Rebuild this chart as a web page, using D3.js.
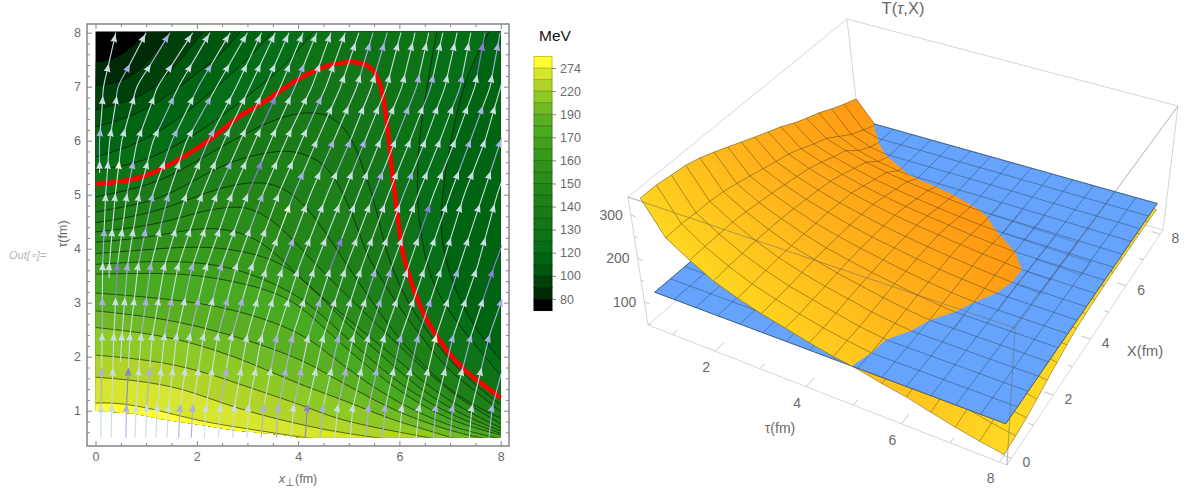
<!DOCTYPE html>
<html>
<head>
<meta charset="utf-8">
<script src="https://cdn.jsdelivr.net/npm/d3@7"></script>
<style>
  html, body { margin: 0; padding: 0; background: #fff; }
  svg { display: block; }
  text { font-family: "Liberation Sans", Arial, sans-serif; }
</style>
</head>
<body>
<div id="chart"></div>
<script>
// contour levels (MeV), low to high, and the colours of the 22 bands they make
var levels = [80, 90, 100, 110, 120, 125, 130, 135, 140, 145, 150, 155, 160, 165, 170, 180, 190, 205, 220, 247, 274];
var labelledLevels = [80, 100, 120, 130, 140, 150, 160, 170, 190, 220, 274];
var bandColors = ["#000000", "#002a06", "#00400a", "#00560e", "#006412", "#056e16", "#0e7216", "#147618",
  "#1a7a18", "#1e8018", "#248618", "#2a8c1a", "#30921a", "#389a1c", "#40a01e", "#48aa20",
  "#5aae22", "#70ba26", "#8ec926", "#b2d42a", "#d6e52e", "#ffff33"];

// contour lines as [x, tau]; a level can have one or two pieces (left side, right side)
var contour80 = [[[0, 7.46], [.36, 7.49], [.75, 7.74], [1.01, 8.02]]];
var contour90 = [[[0, 7.01], [.6, 7.1], [1, 7.4], [1.47, 8.02]]];
var contour100 = [[[0, 6.57], [.75, 6.75], [1.2, 7], [1.6, 7.4], [2.13, 8.02]]];
var contour110 = [[[0, 6.26], [.75, 6.45], [1.4, 6.8], [2, 7.25], [2.5, 7.6], [2.86, 8.02]]];
var contour120 = [[[0, 5.7], [.75, 5.9], [1.5, 6.3], [2.1, 6.75], [2.7, 7.25], [3.1, 7.6], [3.5, 8.02]],
  [[7.77, 8.02], [7.33, 7.25], [7.06, 6.26], [6.83, 5.03], [6.8, 4.07], [7.13, 3.14], [7.52, 2.47], [8, 1.94]]];
var contour125 = [[[0, 5.46], [.75, 5.55], [1.5, 5.85], [2.2, 6.25], [2.9, 6.75], [3.5, 7.2], [3.9, 7.55], [4.3, 8.02]],
  [[6.74, 8.02], [6.54, 7], [6.37, 5.95], [6.34, 4.9], [6.44, 4.16], [6.6, 3.45], [6.93, 2.9], [7.33, 2.4], [8, 1.65]]];
var contour130 = [[[0, 5.2], [.55, 5.24], [.95, 5.33], [1.34, 5.49], [1.8, 5.73], [2.26, 6.01], [2.66, 6.32], [2.86, 6.48],
  [3.25, 6.66], [3.71, 6.97], [4.04, 7.17], [4.56, 7.4], [5.02, 7.48], [5.35, 7.43], [5.55, 7.25], [5.68, 6.88],
  [5.78, 6.14], [5.85, 5.46], [5.94, 4.78], [6.04, 4], [6.14, 3.64], [6.34, 3.08], [6.54, 2.65], [6.93, 2.1],
  [7.26, 1.76], [7.65, 1.48], [8, 1.24]]];
var contour135 = [[[0, 4.96], [.75, 5.1], [1.4, 5.3], [2, 5.62], [2.6, 5.95], [3.2, 6.25], [3.7, 6.45], [4.2, 6.54], [4.63, 6.48],
  [4.96, 6.2], [5.16, 5.83], [5.32, 5.39], [5.52, 4.84], [5.68, 4.16], [5.81, 3.76], [6.08, 3.14], [6.41, 2.65], [6.8, 2.16], [7.26, 1.66], [8, 1.11]]];
var contour140 = [[[0, 4.68], [.75, 4.8], [1.4, 4.97], [2.07, 5.33], [2.72, 5.64], [3.38, 5.78], [3.84, 5.83], [4.3, 5.7], [4.63, 5.46],
  [4.9, 5.02], [5.22, 4.28], [5.35, 3.88], [5.68, 3.39], [6, 2.9], [6.47, 2.34], [6.9, 1.79], [7.52, 1.35], [8, .98]]];
var contour145 = [[[0, 4.48], [.8, 4.6], [1.5, 4.78], [2.2, 5.05], [2.8, 5.2], [3.25, 5.24], [3.71, 5.15], [4.17, 4.78], [4.56, 4.28],
  [4.96, 3.7], [5.28, 3.27], [5.68, 2.71], [6.21, 2.09], [6.73, 1.6], [7.3, 1.17], [8, .86]]];
var contour150 = [[[0, 4.31], [.9, 4.4], [1.6, 4.55], [2.2, 4.72], [2.72, 4.78], [3.05, 4.76], [3.51, 4.53], [3.9, 4.16], [4.56, 3.5],
  [5, 3.1], [5.55, 2.6], [6, 2.2], [6.5, 1.75], [7.2, 1.2], [8, .76]]];
var contour155 = [[[0, 4.12], [1, 4.2], [1.7, 4.33], [2.3, 4.4], [2.9, 4.3], [3.3, 4.1], [3.7, 3.8], [4.2, 3.3], [4.8, 2.85], [5.3, 2.45],
  [5.9, 2], [6.5, 1.5], [7.2, 1.05], [8, .68]]];
var contour160 = [[[0, 3.91], [1, 3.98], [2.2, 4.07], [3.38, 3.88], [4.04, 3.51], [4.6, 2.95], [5.2, 2.4], [5.8, 1.9], [6.4, 1.4], [7.1, .98], [8, .62]]];
var contour165 = [[[0, 3.71], [1.4, 3.79], [2.72, 3.7], [4.04, 3.14], [4.6, 2.65], [5.2, 2.15], [5.8, 1.65], [6.4, 1.25], [7.1, .88], [8, .58]]];
var contour170 = [[[0, 3.53], [1.2, 3.55], [2.07, 3.52], [3.38, 3.27], [4.04, 2.96], [4.6, 2.45], [5.2, 1.95], [5.8, 1.5], [6.4, 1.12], [7.1, .78], [8, .55]]];
var contour180 = [[[0, 3.18], [1.4, 3.08], [2.72, 2.9], [4.04, 2.47], [4.6, 2.05], [5.2, 1.62], [5.8, 1.25], [6.4, .95], [7.1, .68], [7.8, .52], [8, .48]]];
var contour190 = [[[0, 2.85], [1.4, 2.71], [2.72, 2.4], [4.04, 1.97], [4.6, 1.66], [5.2, 1.35], [5.8, 1.05], [6.4, .82], [7.1, .6], [7.7, .48]]];
var contour205 = [[[0, 2.54], [1.4, 2.4], [2.72, 2.03], [4.04, 1.48], [4.6, 1.3], [5.2, 1.08], [5.8, .85], [6.4, .68], [7.1, .48]]];
var contour220 = [[[0, 2.03], [1.08, 1.94], [2.07, 1.75], [3.05, 1.42], [4.04, 1.12], [4.6, .9], [5.2, .75], [6, .6], [6.7, .48]]];
var contour247 = [[[0, 1.62], [.75, 1.57], [1.74, 1.42], [2.72, 1.05], [4.04, .74], [4.8, .6], [5.7, .48]]];
var contour274 = [[[0, 1.14], [.4, 1.15], [1.08, 1.05], [2.07, .8], [2.9, .68], [3.7, .56], [4.3, .48]]];
var contourPieces = [contour80, contour90, contour100, contour110, contour120, contour125, contour130, contour135, contour140,
  contour145, contour150, contour155, contour160, contour165, contour170, contour180, contour190, contour205, contour220, contour247, contour274];
var redLevel = 130;

// lower edge of the filled region (the plot is white past it)
var fieldEdge = [[0, 1], [.75, .95], [1.4, .83], [2.07, .74], [2.72, .64], [3.71, .55], [4.04, .5], [8, .5]];

// streamlines: [start tau, x at start, then x at each streamTaus value above start]
var streamTaus = [.5, 1.05, 2.37, 3.67, 5, 6, 7, 8];
var streams = [
  [5.4, .08, .08, .16, .4],
  [.5, .11, .11, .13, .14, .2, .28, .45, 1],
  [3.45, .27, .27, .39, .52, .82, 1.47],
  [.5, .31, .32, .36, .43, .62, .83, 1.23, 1.92],
  [1.9, .49, .52, .63, .86, 1.14, 1.64, 2.26],
  [.5, .6, .61, .68, .84, 1.13, 1.51, 2.03, 2.66],
  [.5, .78, .8, .9, 1.09, 1.44, 1.8, 2.39, 3],
  [.5, .99, 1.01, 1.12, 1.36, 1.79, 2.23, 2.78, 3.28],
  [.5, 1.19, 1.22, 1.36, 1.63, 2.1, 2.54, 3.05, 3.55],
  [.5, 1.41, 1.44, 1.6, 1.91, 2.39, 2.86, 3.35, 3.82],
  [.5, 1.64, 1.67, 1.86, 2.19, 2.69, 3.15, 3.65, 4.1],
  [.5, 1.89, 1.92, 2.13, 2.48, 3, 3.46, 3.94, 4.37],
  [.5, 2.15, 2.18, 2.41, 2.78, 3.3, 3.76, 4.27, 4.65],
  [.5, 2.43, 2.46, 2.69, 3.09, 3.61, 4.07, 4.55, 4.93],
  [.5, 2.71, 2.74, 2.99, 3.38, 3.91, 4.37, 4.84, 5.2],
  [.5, 2.99, 3.02, 3.28, 3.7, 4.24, 4.7, 5.16, 5.48],
  [.5, 3.27, 3.32, 3.58, 4.02, 4.57, 5.03, 5.45, 5.76],
  [.5, 3.57, 3.61, 3.89, 4.33, 4.89, 5.32, 5.75, 6.03],
  [.5, 3.86, 3.91, 4.2, 4.65, 5.19, 5.62, 6.05, 6.31],
  [.5, 4.14, 4.18, 4.5, 4.95, 5.49, 5.92, 6.34, 6.58],
  [.5, 4.43, 4.49, 4.8, 5.26, 5.78, 6.21, 6.62, 6.86],
  [.5, 4.73, 4.78, 5.09, 5.55, 6.08, 6.51, 6.9, 7.14],
  [.5, 5.03, 5.08, 5.39, 5.85, 6.37, 6.8, 7.2, 7.41],
  [.5, 5.34, 5.39, 5.7, 6.18, 6.67, 7.1, 7.49, 7.69],
  [.5, 5.67, 5.72, 6.03, 6.51, 7, 7.4, 7.79, 7.99],
  [.5, 6, 6.05, 6.37, 6.84, 7.28, 7.69, 8, 8.3],
  [.5, 6.33, 6.39, 6.72, 7.18, 7.65, 8, 8.4],
  [.5, 6.67, 6.72, 7.06, 7.54, 7.93, 8.3],
  [.5, 7, 7.05, 7.41, 7.87, 8.4],
  [.5, 7.38, 7.43, 7.77, 8.25],
  [.5, 7.77, 7.83, 8.2]
];
// rows of arrowheads, for streams on the left half and the right half
var arrowRowsLeft = [1.05, 1.72, 2.37, 3.02, 3.67, 4.3, 4.95, 5.55, 6.15, 6.75, 7.35, 7.9];
var arrowRowsRight = [1.05, 1.72, 2.34, 3, 3.55, 4.13, 4.75, 5.36, 5.95, 6.57, 7.15, 7.74];
// arrows that are not the usual pale colour: [x, tau, tint]
var tintColors = ["#c9dde3", "#a9b0e4", "#8a80d8", "#eef0dc"];
var tintedArrows = [
  [.6, 1.05, 1], [1.67, 1.05, 1], [1.92, 1.05, 1], [3.3, 1.05, 1], [3.6, 1.05, 1], [4.2, 1.05, 2], [4.5, 1.05, 1], [5.4, 1.05, 1], [5.73, 1.05, 1],
  [6.72, 1.05, 1], [7.07, 1.05, 1], [7.83, 1.05, 1], [.11, 1.72, 1], [.64, 1.72, 2], [1.06, 1.72, 1], [2.55, 1.72, 1], [3.72, 1.72, 1], [4.02, 1.72, 1],
  [4.92, 1.72, 1], [5.54, 1.72, 1], [3.58, 2.37, 1], [3.89, 2.37, 1], [4.8, 2.37, 1], [6.04, 2.37, 1], [6.37, 2.37, 1], [7.06, 2.37, 1], [7.4, 2.37, 1],
  [7.75, 2.37, 1], [.13, 3.02, 1], [.98, 3.02, 1], [1.48, 3.02, 1], [2, 3.02, 1], [2.57, 3.02, 1], [2.87, 3.02, 1], [4.4, 3, 1], [5.6, 3, 1], [6.6, 3, 1],
  [7.95, 3, 1], [.43, 3.67, 2], [.63, 3.67, 1], [1.09, 3.67, 1], [1.91, 3.67, 1], [2.48, 3.67, 1], [5.55, 3.55, 1], [5.88, 3.55, 1], [7.16, 3.55, 1],
  [7.82, 3.55, 2], [.16, 4.35, 1], [.96, 4.31, 1], [1.13, 4.96, 1], [1.43, 4.91, 1], [2.63, 5.46, 1], [3.25, 5.46, 2], [3.28, 4.83, 1], [1.59, 6.17, 1],
  [2.28, 6.09, 1], [2.23, 6.75, 1], [1.56, 6.85, 1], [.67, 7.54, 1], [1.26, 7.74, 1], [2.2, 7.34, 1], [3.51, 6.62, 2], [.09, 6.44, 1], [.08, 5.92, 1],
  [.75, 5.6, 1], [4.44, 6.57, 1], [3.94, 4.22, 1], [4.9, 4.16, 2], [6.7, 4.75, 2], [7.73, 7.86, 2], [4.1, 7.2, 1], [5.32, 7.74, 1], [5.62, 7.74, 1],
  [4.77, 5.95, 1], [5.09, 5.95, 1], [5.42, 5.95, 1], [4.18, 5.36, 1], [5.75, 5.33, 1], [6.27, 7.1, 1], [6.54, 7.1, 1], [7.1, 7.15, 1], [7.95, 7.9, 1],
  [7.97, 5.97, 1], [6.3, 6.55, 1], [7.66, 6.6, 1], [7.46, 5.98, 1], [6.37, 5.33, 1], [.42, 5.33, 3], [3.9, 4.77, 3], [6.73, 2.3, 3]
];

// 3D surface: T(tau, X) in MeV, one row per surfaceTau, one column per surfaceX
var surfaceTau = [.5, 1, 1.5, 2, 2.5, 3, 3.5, 4, 4.5, 5, 5.5, 6, 6.5, 7, 7.5, 8];
var surfaceX = [0, .5, 1, 1.5, 2, 2.5, 3, 3.5, 4, 4.5, 5, 5.5, 6, 6.5, 7, 7.5, 8];
var surfaceT = [
  [331, 331, 326, 322, 313, 301, 288, 275, 262, 250, 238, 223, 211, 200, 186, 174, 163],
  [256, 258, 255, 254, 250, 243, 235, 227, 219, 212, 200, 187, 176, 157, 138, 125, 113],
  [223, 223, 223, 223, 220, 215, 211, 205, 199, 193, 183, 171, 161, 137, 121, 112, 106],
  [194, 196, 196, 197, 196, 194, 191, 187, 183, 178, 169, 158, 148, 125, 113, 108, 104],
  [174, 174, 175, 176, 176, 176, 174, 173, 169, 166, 157, 147, 138, 117, 110, 106, 103],
  [158, 158, 158, 160, 162, 161, 161, 160, 158, 155, 148, 139, 131, 113, 108, 105, 103],
  [145, 144, 146, 147, 149, 150, 150, 149, 148, 146, 140, 132, 125, 111, 107, 105, 103],
  [132, 132, 134, 137, 139, 140, 141, 141, 140, 139, 134, 126, 120, 110, 107, 105, 103],
  [121, 123, 123, 126, 129, 132, 132, 133, 133, 133, 128, 121, 116, 110, 107, 105, 103],
  [113, 115, 116, 119, 121, 124, 125, 126, 127, 127, 122, 117, 114, 110, 107, 105, 103],
  [101, 104, 107, 113, 115, 118, 119, 121, 122, 122, 118, 114, 113, 110, 107, 105, 103],
  [92, 95, 98, 105, 110, 113, 115, 117, 118, 118, 115, 113, 112, 110, 107, 105, 103],
  [79, 83, 87, 95, 103, 108, 111, 113, 114, 114, 113, 112, 111, 109, 107, 105, 103],
  [67, 71, 76, 84, 93, 100, 105, 109, 111, 112, 112, 111, 110, 108, 106, 104, 102],
  [57, 60, 65, 74, 83, 91, 98, 103, 106, 109, 110, 110, 109, 107, 105, 103, 102],
  [49, 52, 57, 65, 74, 82, 90, 96, 99, 101, 102, 103, 103, 103, 103, 102, 101]
];
var planeT = 115;

var svg = d3.select("#chart").append("svg").attr("width", 1187).attr("height", 492);
var gray = "#6a6a6a";

// ---------- left panel: contour plot ----------
var xScale = d3.scaleLinear().domain([0, 8]).range([95.5, 500.7]);
var tauScale = d3.scaleLinear().domain([.5, 8]).range([437.7, 32.7]);
var frame = { left: 87, right: 509, top: 24, bottom: 446 };

var toPx = function(p) { return [xScale(p[0]), tauScale(p[1])]; };
var smooth = d3.line().curve(d3.curveBasis);

var defs = svg.append("defs");
var edgePoly = [[0, 8.02], [8, 8.02]].concat(fieldEdge.slice().reverse());
defs.append("clipPath").attr("id", "fieldClip").append("path")
  .attr("d", d3.line()(edgePoly.map(toPx)) + "Z");
defs.append("clipPath").attr("id", "streamClip").append("rect")
  .attr("x", xScale(0) - 1).attr("y", tauScale(8) - 1)
  .attr("width", xScale(8) - xScale(0) + 2).attr("height", tauScale(.5) - tauScale(8) + 2);

var fieldG = svg.append("g").attr("clip-path", "url(#fieldClip)");
fieldG.append("rect").attr("x", xScale(0) - 2).attr("y", tauScale(8) - 2)
  .attr("width", 410).attr("height", 410).attr("fill", bandColors[0]);

levels.forEach(function(level, i) {
  var parts = contourPieces[i];
  var d = parts.map(function(part, j) {
    var s = smooth(part.map(toPx));
    return j ? s.replace(/^M/, "L") : s;
  }).join("");
  var lastPart = parts[parts.length - 1];
  var last = lastPart[lastPart.length - 1];
  var tail = last[1] > 7.9 ? [[8.2, 8.2], [8.2, .3]] : [[last[0], .3]];
  tail.push([-.2, .3]);
  tail.forEach(function(p) { d += "L" + toPx(p).join(","); });
  fieldG.append("path").attr("d", d + "Z").attr("fill", bandColors[i + 1]);
});
levels.forEach(function(level, i) {
  if (level === redLevel) return;
  contourPieces[i].forEach(function(part) {
    fieldG.append("path").attr("d", smooth(part.map(toPx)))
      .attr("fill", "none").attr("stroke", "#000").attr("stroke-opacity", .55).attr("stroke-width", 1);
  });
});
svg.append("g").attr("clip-path", "url(#streamClip)").append("path")
  .attr("d", smooth(contourPieces[levels.indexOf(redLevel)][0].map(toPx)))
  .attr("fill", "none").attr("stroke", "#ff0000").attr("stroke-width", 4.5);

// streamlines, each cut into pieces that end in an arrowhead
var allArrows = [];
var streamData = streams.map(function(row, idx) {
  var from = row[0];
  var taus = [from].concat(streamTaus.filter(function(t) { return t > from; }));
  var xs = row.slice(1);
  taus = taus.slice(0, xs.length);
  var xAt = d3.scaleLinear().domain(taus).range(xs);
  var top = taus[taus.length - 1];
  var rows = idx < 14 ? arrowRowsLeft : arrowRowsRight;
  var arrows = [];
  rows.forEach(function(t) {
    if (t > from && t <= top && xAt(t) <= 8.01) {
      var a = { x: xAt(t), t: t, tint: 0, xAt: xAt };
      arrows.push(a);
      allArrows.push(a);
    }
  });
  return { taus: taus, xAt: xAt, arrows: arrows, from: from, top: top };
});
tintedArrows.forEach(function(s) {
  var best = d3.least(allArrows, function(a) { return Math.hypot(a.x - s[0], a.t - s[1]); });
  best.tint = s[2];
});

var streamG = svg.append("g").attr("clip-path", "url(#streamClip)");
var streamCurve = d3.line().curve(d3.curveCatmullRom.alpha(.5));
streamData.forEach(function(st) {
  var start = st.from;
  var stops = st.arrows.map(function(a) { return { t: a.t, tint: a.tint }; });
  var lastTint = stops.length ? stops[stops.length - 1].tint : 0;
  stops.push({ t: st.top, tint: lastTint });
  stops.forEach(function(stop) {
    if (stop.t <= start) return;
    var ts = [start].concat(st.taus.filter(function(t) { return t > start && t < stop.t; }), [stop.t]);
    streamG.append("path")
      .attr("d", streamCurve(ts.map(function(t) { return toPx([st.xAt(t), t]); })))
      .attr("fill", "none").attr("stroke", tintColors[stop.tint]).attr("stroke-width", 1.1);
    start = stop.t;
  });
});
var arrowG = svg.append("g");
allArrows.forEach(function(a) {
  var p = toPx([a.x, a.t]);
  var q = toPx([a.xAt(a.t + .15), a.t + .15]);
  var angle = Math.atan2(q[1] - p[1], q[0] - p[0]) * 180 / Math.PI;
  arrowG.append("path")
    .attr("d", "M4.5,0L-4,-3.4L-3.2,0L-4,3.4Z")
    .attr("transform", "translate(" + p[0] + "," + p[1] + ") rotate(" + angle + ")")
    .attr("fill", tintColors[a.tint]);
});

// frame and ticks
svg.append("rect").attr("x", frame.left).attr("y", frame.top)
  .attr("width", frame.right - frame.left).attr("height", frame.bottom - frame.top)
  .attr("fill", "none").attr("stroke", "#858585").attr("stroke-width", 1.5);

var xMajor = [0, 2, 4, 6, 8];
var xMinor = [.5, 1, 1.5, 2.5, 3, 3.5, 4.5, 5, 5.5, 6.5, 7, 7.5];
var tauMajor = [1, 2, 3, 4, 5, 6, 7, 8];
var tauMinor = [.6, .8, 1.2, 1.4, 1.6, 1.8, 2.2, 2.4, 2.6, 2.8, 3.2, 3.4, 3.6, 3.8, 4.2, 4.4, 4.6, 4.8,
  5.2, 5.4, 5.6, 5.8, 6.2, 6.4, 6.6, 6.8, 7.2, 7.4, 7.6, 7.8];

function styleAxis(g) {
  g.select(".domain").remove();
  g.selectAll("line").attr("stroke", "#858585");
  g.selectAll("text").attr("fill", gray).attr("font-size", 12.5).attr("font-family", "Liberation Sans, Arial, sans-serif");
}
function addAxis(axis, transform, values, size, withText) {
  var a = axis.tickValues(values).tickSize(-size).tickPadding(6);
  a.tickFormat(withText ? d3.format("d") : "");
  svg.append("g").attr("transform", transform).call(a).call(styleAxis);
}
addAxis(d3.axisBottom(xScale), "translate(0," + frame.bottom + ")", xMajor, 5, true);
addAxis(d3.axisBottom(xScale), "translate(0," + frame.bottom + ")", xMinor, 3, false);
addAxis(d3.axisTop(xScale), "translate(0," + frame.top + ")", xMajor, 5, false);
addAxis(d3.axisTop(xScale), "translate(0," + frame.top + ")", xMinor, 3, false);
addAxis(d3.axisLeft(tauScale), "translate(" + frame.left + ",0)", tauMajor, 5, true);
addAxis(d3.axisLeft(tauScale), "translate(" + frame.left + ",0)", tauMinor, 3, false);
addAxis(d3.axisRight(tauScale), "translate(" + frame.right + ",0)", tauMajor, 5, false);
addAxis(d3.axisRight(tauScale), "translate(" + frame.right + ",0)", tauMinor, 3, false);

var xLabel = svg.append("text").attr("x", 298).attr("y", 483).attr("text-anchor", "middle")
  .attr("fill", gray).attr("font-size", 12.5);
xLabel.append("tspan").attr("font-style", "italic").text("x");
xLabel.append("tspan").attr("dy", 3).attr("font-size", 11).text("⊥");
xLabel.append("tspan").attr("dy", -3).text("(fm)");
svg.append("text").attr("transform", "translate(67,234) rotate(-90)").attr("text-anchor", "middle")
  .attr("fill", gray).attr("font-size", 12.5).text("τ(fm)");
svg.append("text").attr("x", 9).attr("y", 259).attr("fill", "#b4b4b4").attr("font-size", 11)
  .attr("font-style", "italic").text("Out[∘]=");

// colour legend
var legendScale = d3.scalePoint().domain(levels.slice().reverse()).range([68, 299]);
var legendG = svg.append("g");
var legendStep = legendScale.step();
bandColors.forEach(function(c, i) {
  var lower = i === 0 ? legendScale(levels[0]) + legendStep : legendScale(levels[i - 1]);
  legendG.append("rect").attr("x", 534).attr("width", 18)
    .attr("y", lower - legendStep).attr("height", legendStep)
    .attr("fill", c).attr("stroke", d3.color(c).darker(.7)).attr("stroke-width", 1);
});
svg.append("g").attr("transform", "translate(552,0)")
  .call(d3.axisRight(legendScale).tickValues(labelledLevels).tickSize(4).tickPadding(4))
  .call(function(g) {
    g.select(".domain").remove();
    g.selectAll("line").attr("stroke", "#858585");
    g.selectAll("text").attr("fill", gray).attr("font-size", 12.5).attr("font-family", "Liberation Sans, Arial, sans-serif");
  });
svg.append("text").attr("x", 555).attr("y", 41).attr("text-anchor", "middle")
  .attr("fill", "#111").attr("font-size", 15.5).text("MeV");

// ---------- right panel: 3D surface ----------
// screen corners of the box: (tau low, X low), (tau high, X low), (tau high, X high), (tau low, X high)
var boxBottom = [[648, 325], [1007, 465], [1163, 230], [861, 144]];
var boxTop = [[628, 197], [1015, 328], [1178, 106], [847, 19]];
var tauNorm = d3.scaleLinear().domain([.35, 8.15]).range([0, 1]);
var xNorm = d3.scaleLinear().domain([-.16, 8.16]).range([0, 1]);
var tNorm = d3.scaleLinear().domain([47, 341]).range([0, 1]);

function mix(a, b, k) { return [a[0] + (b[0] - a[0]) * k, a[1] + (b[1] - a[1]) * k]; }
function project(tau, X, T) {
  var u = Math.pow(tauNorm(tau), 1.08), v = Math.pow(xNorm(X), .9), w = tNorm(T);
  var low = mix(mix(boxBottom[0], boxBottom[1], u), mix(boxBottom[3], boxBottom[2], u), v);
  var high = mix(mix(boxTop[0], boxTop[1], u), mix(boxTop[3], boxTop[2], u), v);
  return mix(low, high, w);
}
function vertex(i, j) { return { tau: surfaceTau[i], X: surfaceX[j], T: surfaceT[i][j] }; }
function crossing(a, b) {
  var k = (planeT - a.T) / (b.T - a.T);
  return { tau: a.tau + (b.tau - a.tau) * k, X: a.X + (b.X - a.X) * k, T: planeT };
}
function screen(p) { return project(p.tau, p.X, p.T); }
function polyPath(pts) { return pts.length > 2 ? "M" + pts.map(function(p) { return screen(p).join(","); }).join("L") + "Z" : ""; }

// split one polygon against the plane, keep the part above (sign 1) or below (sign -1)
function clipPoly(pts, sign) {
  var out = [];
  pts.forEach(function(a, i) {
    var b = pts[(i + 1) % pts.length];
    var ain = sign * (a.T - planeT) >= 0, bin = sign * (b.T - planeT) >= 0;
    if (ain) out.push(a);
    if (ain !== bin) out.push(crossing(a, b));
  });
  return out;
}
var aboveFill = "", belowFill = "", aboveMesh = "", belowMesh = "", ghostMesh = "";
function addEdge(a, b) {
  function seg(p, q) { return "M" + screen(p).join(",") + "L" + screen(q).join(","); }
  if (a.T >= planeT && b.T >= planeT) aboveMesh += seg(a, b);
  else if (a.T < planeT && b.T < planeT) {
    belowMesh += seg(a, b);
    if (a.T > planeT - 6 && b.T > planeT - 6 && a.X < 6.5) ghostMesh += seg(a, b);
  } else {
    var c = crossing(a, b);
    var hi = a.T >= planeT ? a : b, lo = a.T >= planeT ? b : a;
    aboveMesh += seg(hi, c);
    belowMesh += seg(lo, c);
  }
}
surfaceTau.forEach(function(tau, i) {
  surfaceX.forEach(function(X, j) {
    if (i < surfaceTau.length - 1) addEdge(vertex(i, j), vertex(i + 1, j));
    if (j < surfaceX.length - 1) addEdge(vertex(i, j), vertex(i, j + 1));
    if (i < surfaceTau.length - 1 && j < surfaceX.length - 1) {
      var quad = [vertex(i, j), vertex(i + 1, j), vertex(i + 1, j + 1), vertex(i, j + 1)];
      aboveFill += polyPath(clipPoly(quad, 1));
      belowFill += polyPath(clipPoly(quad, -1));
    }
  });
});

var grad = defs.append("linearGradient").attr("id", "surfaceGrad").attr("gradientUnits", "userSpaceOnUse")
  .attr("x1", 676).attr("y1", 264).attr("x2", 854).attr("y2", 86);
grad.append("stop").attr("offset", 0).attr("stop-color", "#ffda20");
grad.append("stop").attr("offset", .5).attr("stop-color", "#ffb31b");
grad.append("stop").attr("offset", 1).attr("stop-color", "#ff9712");
var gradLow = defs.append("linearGradient").attr("id", "lowerGrad").attr("gradientUnits", "userSpaceOnUse")
  .attr("x1", 870).attr("y1", 380).attr("x2", 1000).attr("y2", 450);
gradLow.append("stop").attr("offset", 0).attr("stop-color", "#ffbd1c");
gradLow.append("stop").attr("offset", 1).attr("stop-color", "#ffd822");

var boxColor = "#d6d6d6";
var boxG = svg.append("g");
function boxLine(g, a, b, color, width) {
  g.append("line").attr("x1", a[0]).attr("y1", a[1]).attr("x2", b[0]).attr("y2", b[1])
    .attr("stroke", color).attr("stroke-width", width || 1);
}
// back and outer edges of the box
boxLine(boxG, boxTop[0], boxTop[3], boxColor);
boxLine(boxG, boxTop[3], boxTop[2], boxColor);
boxLine(boxG, boxTop[3], boxBottom[3], boxColor);
boxLine(boxG, boxBottom[3], boxBottom[2], boxColor);
boxLine(boxG, boxBottom[3], boxBottom[0], boxColor);
boxLine(boxG, boxBottom[0], boxTop[0], boxColor);
boxLine(boxG, boxBottom[2], boxTop[2], boxColor);
boxLine(boxG, boxBottom[0], boxBottom[1], boxColor);
boxLine(boxG, boxBottom[1], boxBottom[2], boxColor);

var meshDark = "#4a3c14";
svg.append("path").attr("d", belowFill).attr("fill", "url(#lowerGrad)");
svg.append("path").attr("d", belowMesh).attr("fill", "none").attr("stroke", meshDark).attr("stroke-opacity", .6).attr("stroke-width", .7);

// flat blue plane
var planeCorners = [{ tau: .5, X: 0, T: planeT }, { tau: 8, X: 0, T: planeT }, { tau: 8, X: 8, T: planeT }, { tau: .5, X: 8, T: planeT }];
svg.append("path").attr("d", polyPath(planeCorners)).attr("fill", "#65a3fc")
  .attr("stroke", "#34507a").attr("stroke-width", .6);
var planeMesh = "";
surfaceTau.forEach(function(tau) {
  planeMesh += "M" + project(tau, 0, planeT).join(",") + "L" + project(tau, 8, planeT).join(",");
});
surfaceX.forEach(function(X) {
  planeMesh += "M" + project(.5, X, planeT).join(",") + "L" + project(8, X, planeT).join(",");
});
svg.append("path").attr("d", planeMesh).attr("fill", "none").attr("stroke", "#2e4460").attr("stroke-opacity", .65).attr("stroke-width", .7);
svg.append("path").attr("d", ghostMesh).attr("fill", "none").attr("stroke", "#2a2a2a").attr("stroke-opacity", .35).attr("stroke-width", .7);

// orange surface above the plane
svg.append("path").attr("d", aboveFill).attr("fill", "url(#surfaceGrad)").attr("stroke", "url(#surfaceGrad)").attr("stroke-width", .4);
svg.append("path").attr("d", aboveMesh).attr("fill", "none").attr("stroke", meshDark).attr("stroke-opacity", .65).attr("stroke-width", .7);

// front edges show through the surfaces
var frontColor = "rgba(110,110,110,.55)";
boxLine(svg, boxTop[0], boxTop[1], frontColor);
boxLine(svg, boxTop[1], boxTop[2], frontColor);
boxLine(svg, boxTop[1], boxBottom[1], frontColor);

// 3D ticks and labels
var tauTicks = [1, 2, 3, 4, 5, 6, 7, 8];
var xTicks = [0, 1, 2, 3, 4, 5, 6, 7, 8];
var tempTicks = [100, 200, 300];
var tempMinor = [50, 150, 250];
function tick3d(a, b) { boxLine(svg, a, b, "#c4c4c4"); }
function label3d(p, s, anchor) {
  svg.append("text").attr("x", p[0]).attr("y", p[1]).attr("text-anchor", anchor || "middle")
    .attr("dominant-baseline", "central").attr("fill", gray).attr("font-size", 14).text(s);
}
tauTicks.forEach(function(t) {
  var major = t % 2 === 0;
  tick3d(project(t, -.16, 47), project(t, major ? .1 : -.03, 47));
  if (major) {
    var p = project(t, -.16, 47);
    label3d([p[0] - 9, p[1] + 16], t);
  }
});
xTicks.forEach(function(X) {
  var major = X % 2 === 0;
  tick3d(project(8.15, X, 47), project(major ? 7.95 : 8.05, X, 47));
  if (major) {
    var p = project(8.15, X, 47);
    label3d([p[0] + 15, p[1] + 4], X);
  }
});
tempTicks.forEach(function(T) {
  var p = project(.35, -.16, T);
  tick3d(p, [p[0] + 5, p[1] + 2]);
  label3d([p[0] - 8, p[1]], T, "end");
});
tempMinor.forEach(function(T) {
  var p = project(.35, -.16, T);
  tick3d(p, [p[0] + 3, p[1] + 1]);
});

var title = svg.append("text").attr("x", 903).attr("y", 14).attr("text-anchor", "middle")
  .attr("fill", gray).attr("font-size", 16.5);
title.append("tspan").text("T(");
title.append("tspan").attr("font-style", "italic").text("τ");
title.append("tspan").text(",X)");
svg.append("text").attr("x", 780).attr("y", 433).attr("text-anchor", "middle")
  .attr("fill", gray).attr("font-size", 14).text("τ(fm)");
svg.append("text").attr("x", 1145).attr("y", 356).attr("text-anchor", "middle")
  .attr("fill", gray).attr("font-size", 15).text("X(fm)");
</script>
</body>
</html>
